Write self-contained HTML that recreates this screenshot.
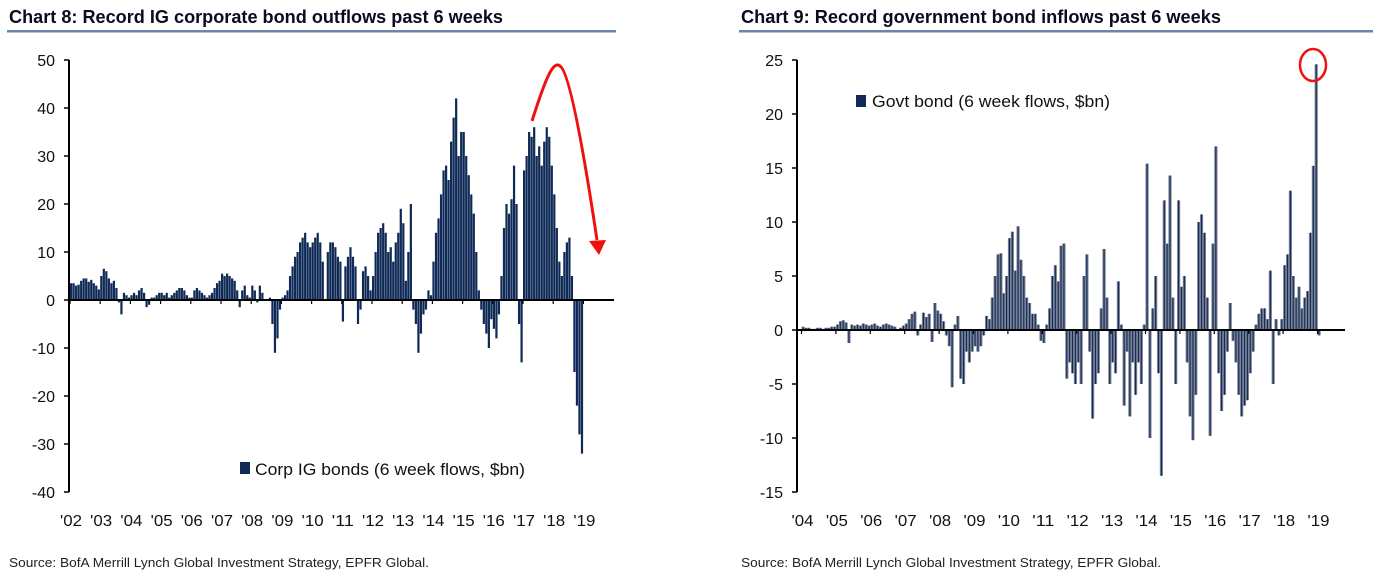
<!DOCTYPE html>
<html><head><meta charset="utf-8"><style>
html,body{margin:0;padding:0;background:#fff;}
svg{display:block;font-family:"Liberation Sans",sans-serif;}
</style></head><body>
<svg id="root" width="1379" height="579" viewBox="0 0 1379 579">
  <g>
    <text x="9" y="23" font-size="18" font-weight="bold" fill="#0a0a20" textLength="494" lengthAdjust="spacingAndGlyphs">Chart 8: Record IG corporate bond outflows past 6 weeks</text>
    <rect x="7" y="30" width="609" height="2.5" fill="#6a84ad"/>
  </g>
  <g>
    <text x="741" y="23" font-size="18" font-weight="bold" fill="#0a0a20" textLength="480" lengthAdjust="spacingAndGlyphs">Chart 9: Record government bond inflows past 6 weeks</text>
    <rect x="739" y="30" width="634" height="2.5" fill="#6a84ad"/>
  </g>
  <g id="c1"></g>
  <g id="c2"></g>
  <text x="9" y="567" font-size="12.5" fill="#222" textLength="420" lengthAdjust="spacingAndGlyphs">Source:  BofA Merrill Lynch Global Investment Strategy, EPFR Global.</text>
  <text x="741" y="567" font-size="12.5" fill="#222" textLength="420" lengthAdjust="spacingAndGlyphs">Source:  BofA Merrill Lynch Global Investment Strategy, EPFR Global.</text>
</svg>
<script>
// ---- Chart 8 data (monthly, Jan 2002 .. Dec 2018) ----
const corpStartYear = 2002;
const corpValues = [
 3.5,3.5,3,3.2,4,4.5,4.5,3.8,4.2,3.5,3,2.2,
 5,6.5,6,4.5,3.5,4,2.5,-0.5,-3,1.5,1,0.5,
 1,1.5,1,2,2.5,1.5,-1.5,-1,0.5,0.5,1,1.5,
 1.5,1,1.5,0.5,1,1.5,2,2.5,2.5,2,1,0.5,
 0.5,2,2.5,2,1.5,1,0.5,1,1.5,2.5,3.5,4,
 5.5,5,5.5,5,4.5,4,2,-1.5,2,3,1,0.5,
 3,2,-0.5,3,1.5,0,0,0.5,-5,-11,-8,-2,
 0.5,1,2,5,7,9,10,12,13,14,12,11,
 12,13,14,12,8,0,10,12,12,11,9,8,
 -4.5,7,9,11,9,7,-5,-2,6,7,5,2,
 5,10,14,15,16,14,10,11,8,12,14,19,
 16,4,10,20,-2,-5,-11,-7,-3,-2,2,1,
 8,14,17,22,27,28,25,33,38,42,30,35,
 35,30,26,22,18,10,2,-2,-5,-7,-10,-4,
 -6,-8,-3,5,15,20,18,21,28,20,-5,-13,
 27,30,35,34,36,30,32,28,33,36,34,28,
 22,15,8,5,10,12,13,5,-15,-22,-28,-32
];
const corpTicks = [50,40,30,20,10,0,-10,-20,-30,-40];
const corpYearLabels = ["'02","'03","'04","'05","'06","'07","'08","'09","'10","'11","'12","'13","'14","'15","'16","'17","'18","'19"];

// ---- Chart 9 data (monthly, Jan 2004 .. Jan 2019) ----
const govtStartYear = 2004;
const govtValues = [
 0.3,0.2,0.2,0.1,0.1,0.2,0.2,0.1,0.2,0.2,0.3,0.3,
 0.5,0.8,0.9,0.7,-1.2,0.5,0.4,0.5,0.4,0.6,0.5,0.4,
 0.5,0.6,0.4,0.3,0.5,0.6,0.5,0.4,0.3,-0.1,0.2,0.4,
 0.6,1,1.5,1.7,-0.5,0.5,1.6,1.2,1.5,-1.1,2.5,1.8,
 1.5,0.8,-0.5,-1.5,-5.3,0.5,1.3,-4.5,-5,-2,-3,-2,
 -1.5,-2,-1.5,-0.5,1.3,1,3,5,7,7.1,3.4,5,
 8.5,9.1,5.5,9.6,6.5,5,3,2.5,1.5,1.5,0.5,-1,
 -1.2,0.5,2,5,6,4.5,7.8,8,-4.5,-3,-4,-5,
 -3,-5,5,7,-2,-8.2,-5,-4,2,7.5,3,-5,
 -3,-4,4.5,0.5,-7,-2,-8,-3,-6,-3,-5,0.5,
 15.4,-10,2,5,-4,-13.5,12,8,14.3,3,-5,12,
 4,5,-3,-8,-10.2,-6,10,10.7,9,3,-9.8,8,
 17,-4,-7.5,-6,-2,2.5,-1,-3,-6,-8,-7,-6.5,
 -4,-2,0.5,1.5,2,2,1,5.5,-5,1,-0.5,1,
 6,7,12.9,5,3,4,2,3,3.6,9,15.2,24.6,
 -0.5
];
const govtTicks = [25,20,15,10,5,0,-5,-10,-15];
const govtYearLabels = ["'04","'05","'06","'07","'08","'09","'10","'11","'12","'13","'14","'15","'16","'17","'18","'19"];

const NS = "http://www.w3.org/2000/svg";
function mk(parent, tag, attrs, text){
  const e = document.createElementNS(NS, tag);
  for (const k in attrs) e.setAttribute(k, attrs[k]);
  if (text !== undefined) e.textContent = text;
  parent.appendChild(e);
  return e;
}

function drawChart(cfg){
  const g = document.getElementById(cfg.id);
  const yScale = v => cfg.y0 + (cfg.vmax - v) * (cfg.y1 - cfg.y0) / (cfg.vmax - cfg.vmin);
  const xYear = i => cfg.xStart + cfg.yearW * i;
  const mW = cfg.yearW / 12;
  const zy = yScale(0);
  cfg.values.forEach((v, i) => {
    const x = cfg.xStart + i * mW;
    const y = Math.min(yScale(v), zy), h = Math.abs(yScale(v) - zy);
    if (cfg.grey) {
      const r = mk(g, 'rect', {x: x, y: y, width: mW + 0.3, height: h, fill: '#7b8194'});
      
      
      const r2 = mk(g, 'rect', {x: x + mW*0.35, y: y, width: 1.1, height: h, fill: '#0f2a56'});
      
      
    } else {
      const r = mk(g, 'rect', {x: x, y: y, width: mW - 0.3, height: h, fill: '#0f2a56'});
      
      
    }
  });
  const ax = mk(g, 'line', {x1: cfg.xAxis, x2: cfg.xAxis, y1: cfg.y0, y2: cfg.y1, stroke: '#000', 'stroke-width': 2});
  
  
  cfg.ticks.forEach(t => {
    const y = yScale(t);
    const tk = mk(g, 'line', {x1: cfg.xAxis - 5, x2: cfg.xAxis, y1: y, y2: y, stroke: '#000', 'stroke-width': 1.5});
    
    
    const tl = mk(g, 'text', {x: cfg.xAxis - 14, y: y + 6, 'font-size': 16, 'text-anchor': 'end', fill: '#111'}, String(t));
    
    
  });
  const zl = mk(g, 'line', {x1: cfg.xAxis, x2: cfg.xEnd, y1: zy, y2: zy, stroke: '#000', 'stroke-width': 2});
  
  
  cfg.years.forEach((lab, i) => {
    const x = xYear(i);
    const tk = mk(g, 'line', {x1: x, x2: x, y1: zy, y2: zy + 4, stroke: '#000', 'stroke-width': 1.2});
    
    
    const tl = mk(g, 'text', {x: x + 1, y: 526, 'font-size': 16, 'text-anchor': 'middle', fill: '#111', textLength: 22, lengthAdjust: 'spacingAndGlyphs'}, lab);
    
    
  });
}

drawChart({id: 'c1', values: corpValues, ticks: corpTicks, years: corpYearLabels,
  vmax: 50, vmin: -40, y0: 60, y1: 492, xAxis: 69, xEnd: 614, xStart: 70, yearW: 30.2, grey: false});
drawChart({id: 'c2', values: govtValues, ticks: govtTicks, years: govtYearLabels,
  vmax: 25, vmin: -15, y0: 60, y1: 492, xAxis: 797, xEnd: 1345, xStart: 801.5, yearW: 34.4, grey: true});

const c1 = document.getElementById('c1');
const c2 = document.getElementById('c2');
const l1 = mk(c1, 'rect', {x: 240, y: 462, width: 10, height: 12, fill: '#0f2a56'});


const lt1 = mk(c1, 'text', {x: 255, y: 475, 'font-size': 16.5, fill: '#111', textLength: 270, lengthAdjust: 'spacingAndGlyphs'}, 'Corp IG bonds (6 week flows, $bn)');


const l2 = mk(c2, 'rect', {x: 856, y: 95, width: 10, height: 12, fill: '#0f2a56'});


const lt2 = mk(c2, 'text', {x: 872, y: 107, 'font-size': 16.5, fill: '#111', textLength: 238, lengthAdjust: 'spacingAndGlyphs'}, 'Govt bond (6 week flows, $bn)');


const arr = mk(c1, 'path', {d: 'M532,121 C545,80 553,60 560,66 C570,72 585,160 597,240', fill: 'none', stroke: '#f01010', 'stroke-width': 3});


const ah = mk(c1, 'path', {d: 'M589,241 L606,240 L599,255 Z', fill: '#f01010'});


const circ = mk(c2, 'ellipse', {cx: 1313, cy: 65, rx: 13, ry: 16, fill: 'none', stroke: '#f01010', 'stroke-width': 2.5});


</script>
</body></html>
